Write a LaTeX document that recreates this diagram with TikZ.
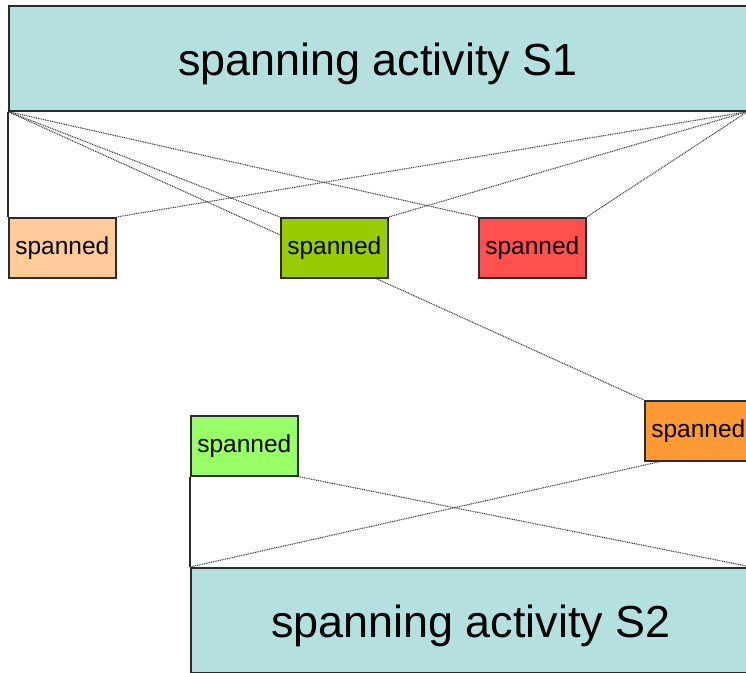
\documentclass[tikz,border=0pt]{standalone}
\usepackage{fontspec}
\setmainfont{Liberation Sans}
\usetikzlibrary{backgrounds,calc}
\definecolor{actfill}{HTML}{B4E0E0}
\definecolor{peachfill}{HTML}{FFCC99}
\definecolor{greenfill}{HTML}{99CC00}
\definecolor{redfill}{HTML}{FF5050}
\definecolor{lgreenfill}{HTML}{99FF66}
\definecolor{orangefill}{HTML}{FF9933}
\definecolor{boxline}{HTML}{2B2B2B}
\definecolor{linkgray}{HTML}{444444}

\begin{document}
\begin{tikzpicture}[x=1pt,y=-1pt,
  box/.style={draw=boxline, line width=1.6pt, inner sep=0pt, anchor=north west},
  activity/.style={box, fill=actfill, font=\fontsize{44.9}{50}\selectfont,
    text height=35pt, text depth=0pt},
  spannedbox/.style={box, minimum width=107pt, minimum height=60pt,
    font=\fontsize{24.5}{28}\selectfont, text height=13.6pt, text depth=0pt},
  link/.style={draw=linkgray, line width=1.1pt, dash pattern=on 1pt off 0.8pt},
  bracket/.style={draw=boxline, line width=1.6pt}]
\useasboundingbox (0,0) rectangle (746,672);

% spanning activities
\node[activity, minimum width=738pt, minimum height=105pt] (s1) at (8,5) {spanning activity S1};
\node[activity, minimum width=560pt, minimum height=105pt] (s2) at (190,567) {spanning activity S2};

% spanned activities
\node[spannedbox, fill=peachfill]  (peach)  at (8,217)   {spanned};
\node[spannedbox, fill=greenfill]  (green)  at (280,217) {spanned};
\node[spannedbox, fill=redfill]    (red)    at (478,217) {spanned};
\node[spannedbox, fill=lgreenfill] (lgreen) at (190,415) {spanned};
\node[spannedbox, fill=orangefill] (orange) at (644,400) {spanned};

% span brackets
\draw[bracket] (s1.south west) -- (peach.north west);
\draw[bracket] (lgreen.south west) -- (s2.north west);

% dotted span links, kept behind the boxes
\begin{pgfonlayer}{background}
  \draw[link] (s1.south west) -- (red.north west);
  \draw[link] (s1.south west) -- (green.north west);
  \draw[link] (s1.south west) -- (orange.north west);
  \draw[link] (s1.south east) -- (peach.north east);
  \draw[link] (s1.south east) -- (green.north east);
  \draw[link] (s1.south east) -- (red.north east);
  \draw[link] (lgreen.south east) -- (s2.north east);
  \draw[link] (s2.north west) -- ($(orange.south west)+(16,0)$);
\end{pgfonlayer}
\end{tikzpicture}
\end{document}
